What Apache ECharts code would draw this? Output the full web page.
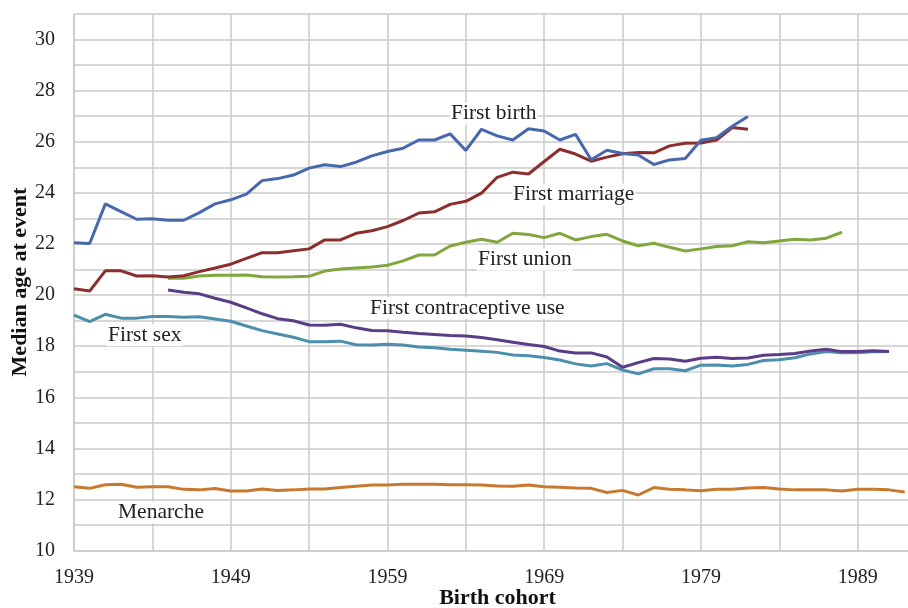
<!DOCTYPE html>
<html>
<head>
<meta charset="utf-8">
<script src="https://cdn.jsdelivr.net/npm/echarts@6/dist/echarts.min.js"></script>
<style>
html,body{margin:0;padding:0;background:#fff;}
#chart{width:908px;height:608px;}
</style>
</head>
<body>
<div id="chart"></div>
<script>
// ---- Data (median age at event by birth cohort) ----
const firstBirthStart = 1939;
const firstBirth = [22.05, 22.02, 23.57, 23.27, 22.97, 22.99, 22.93, 22.93, 23.23, 23.57,
  23.73, 23.95, 24.48, 24.56, 24.70, 24.97, 25.10, 25.03, 25.20, 25.45,
  25.62, 25.75, 26.07, 26.07, 26.31, 25.66, 26.49, 26.23, 26.07, 26.51,
  26.42, 26.07, 26.29, 25.30, 25.67, 25.54, 25.48, 25.11, 25.29, 25.35,
  26.06, 26.16, 26.61, 26.99];

const firstMarriageStart = 1939;
const firstMarriage = [20.25, 20.16, 20.95, 20.95, 20.75, 20.76, 20.71, 20.76, 20.92, 21.06,
  21.21, 21.44, 21.66, 21.66, 21.74, 21.81, 22.16, 22.16, 22.42, 22.52,
  22.68, 22.92, 23.21, 23.26, 23.55, 23.67, 23.99, 24.61, 24.81, 24.74,
  25.23, 25.71, 25.52, 25.24, 25.40, 25.53, 25.58, 25.57, 25.84, 25.94,
  25.95, 26.07, 26.56, 26.49];

const firstUnionStart = 1945;
const firstUnion = [20.66, 20.66, 20.75, 20.78, 20.78, 20.79, 20.72, 20.71, 20.72, 20.74,
  20.94, 21.02, 21.06, 21.10, 21.17, 21.34, 21.57, 21.57, 21.92, 22.07,
  22.19, 22.07, 22.42, 22.37, 22.25, 22.42, 22.16, 22.29, 22.38, 22.12,
  21.93, 22.03, 21.87, 21.73, 21.81, 21.90, 21.93, 22.09, 22.05, 22.12,
  22.19, 22.16, 22.23, 22.46];

const contraceptiveStart = 1945;
const contraceptive = [20.20, 20.11, 20.05, 19.88, 19.72, 19.50, 19.27, 19.08, 19.00, 18.83,
  18.82, 18.86, 18.72, 18.62, 18.61, 18.55, 18.50, 18.46, 18.42, 18.40,
  18.34, 18.25, 18.16, 18.07, 17.99, 17.81, 17.74, 17.74, 17.58, 17.18,
  17.36, 17.52, 17.50, 17.41, 17.53, 17.57, 17.52, 17.54, 17.65, 17.68,
  17.72, 17.81, 17.88, 17.79, 17.79, 17.82, 17.79];

const firstSexStart = 1939;
const firstSex = [19.22, 18.96, 19.25, 19.10, 19.10, 19.16, 19.16, 19.13, 19.15, 19.07,
  18.98, 18.79, 18.61, 18.48, 18.35, 18.18, 18.18, 18.20, 18.06, 18.05,
  18.08, 18.05, 17.97, 17.94, 17.88, 17.84, 17.80, 17.76, 17.66, 17.63,
  17.56, 17.46, 17.31, 17.23, 17.32, 17.07, 16.92, 17.12, 17.12, 17.04,
  17.26, 17.27, 17.23, 17.29, 17.44, 17.47, 17.55, 17.70, 17.79, 17.75,
  17.75, 17.78, 17.79];

const menarcheStart = 1939;
const menarche = [12.50, 12.44, 12.58, 12.60, 12.48, 12.50, 12.50, 12.40, 12.38, 12.43,
  12.34, 12.34, 12.41, 12.36, 12.38, 12.41, 12.41, 12.47, 12.52, 12.57,
  12.57, 12.60, 12.60, 12.60, 12.58, 12.58, 12.57, 12.53, 12.52, 12.57,
  12.50, 12.48, 12.45, 12.44, 12.28, 12.36, 12.18, 12.47, 12.40, 12.38,
  12.35, 12.40, 12.40, 12.45, 12.47, 12.41, 12.38, 12.38, 12.38, 12.34,
  12.40, 12.40, 12.38, 12.30];

const seriesNames = ['Menarche', 'First sex', 'First contraceptive use', 'First union', 'First marriage', 'First birth'];
const xTickLabels = [1939, 1949, 1959, 1969, 1979, 1989];
const yTickLabels = [10, 12, 14, 16, 18, 20, 22, 24, 26, 28, 30];

function pairs(start, vals) { return vals.map((v, i) => [start + i, v]); }

const FONT = '"Liberation Serif", "DejaVu Serif", serif';
const GRID = '#CACACA';

const chart = echarts.init(document.getElementById('chart'), null, {renderer: 'canvas'});

function lineSeries(name, data, color) {
  return {
    name: name, type: 'line', data: data, showSymbol: false, symbol: 'none',
    lineStyle: {color: color, width: 3}, itemStyle: {color: color},
    z: 3, silent: true
  };
}

function label(text, x, y) {
  return {type: 'text', x: x, y: y, z: 100,
    style: {text: text, fill: '#222', font: '21.5px ' + FONT, verticalAlign: 'middle',
      backgroundColor: '#ffffff', padding: [0, 1, 0, 1]}};
}

const option = {
  animation: false,
  backgroundColor: '#ffffff',
  grid: {left: 74, top: 14, width: 862, height: 536.7, containLabel: false, outerBoundsMode: 'none'},
  xAxis: {
    type: 'value', min: 1939, max: 1994, interval: 5,
    axisLine: {show: true, lineStyle: {color: GRID, width: 1.5}},
    axisTick: {show: false},
    splitLine: {show: true, lineStyle: {color: GRID, width: 1.5}},
    axisLabel: {
      margin: 17, color: '#222', fontFamily: FONT, fontSize: 20,
      formatter: v => (xTickLabels.indexOf(v) >= 0 ? String(v) : '')
    }
  },
  yAxis: {
    type: 'value', min: 10, max: 31, interval: 1,
    axisLine: {show: true, lineStyle: {color: GRID, width: 1.5}},
    axisTick: {show: false},
    splitLine: {show: true, lineStyle: {color: GRID, width: 1.5}},
    axisLabel: {
      margin: 19, color: '#222', fontFamily: FONT, fontSize: 20,
      formatter: v => (yTickLabels.indexOf(v) >= 0 ? String(v) : '')
    }
  },
  series: [
    lineSeries(seriesNames[0], pairs(menarcheStart, menarche), '#C8792D'),
    lineSeries(seriesNames[1], pairs(firstSexStart, firstSex), '#4C8FAC'),
    lineSeries(seriesNames[2], pairs(contraceptiveStart, contraceptive), '#5A3C87'),
    lineSeries(seriesNames[3], pairs(firstUnionStart, firstUnion), '#80A73D'),
    lineSeries(seriesNames[4], pairs(firstMarriageStart, firstMarriage), '#8C2E2D'),
    lineSeries(seriesNames[5], pairs(firstBirthStart, firstBirth), '#4868AE')
  ],
  graphic: [
    label('First birth', 450, 113.5),
    label('First marriage', 512, 194.5),
    label('First union', 477, 259.5),
    label('First contraceptive use', 369, 308),
    label('First sex', 107, 335),
    label('Menarche', 117, 512.5),
    {type: 'text', x: 20, y: 282, rotation: Math.PI / 2,
      style: {text: 'Median age at event', fill: '#111', font: 'bold 22px ' + FONT, align: 'center', verticalAlign: 'middle'}},
    {type: 'text', x: 497.5, y: 598.5,
      style: {text: 'Birth cohort', fill: '#111', font: 'bold 22px ' + FONT, align: 'center', verticalAlign: 'middle'}}
  ]
};
chart.setOption(option);
</script>
</body>
</html>
